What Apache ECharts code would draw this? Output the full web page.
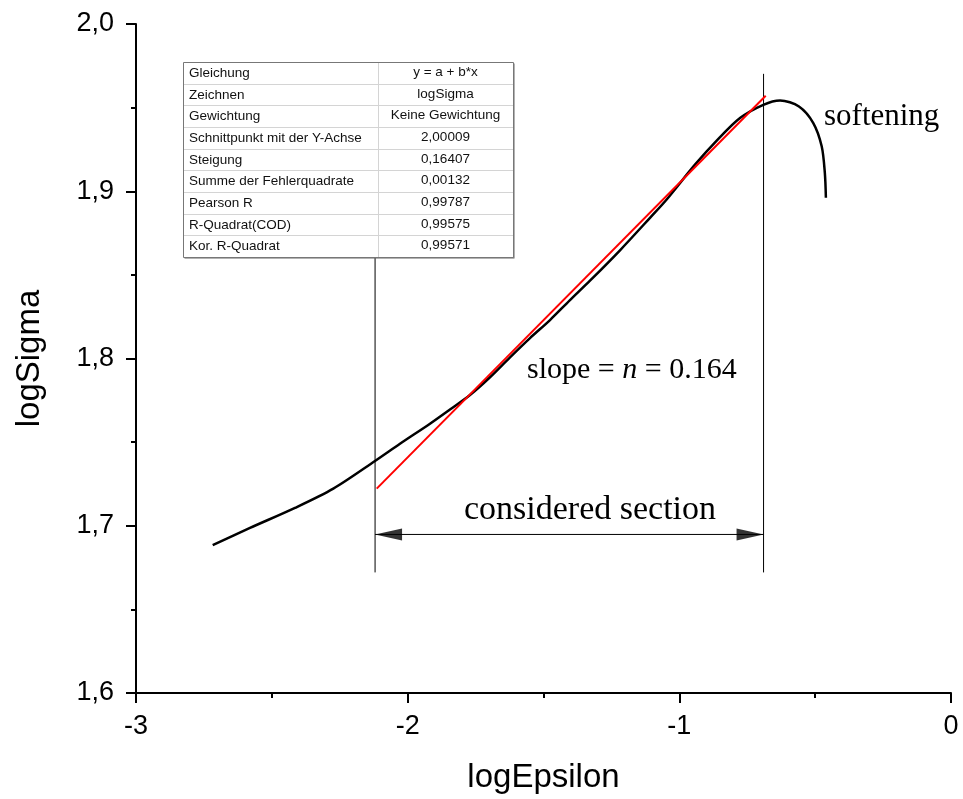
<!DOCTYPE html>
<html>
<head>
<meta charset="utf-8">
<script src="https://cdn.jsdelivr.net/npm/echarts@6/dist/echarts.min.js"></script>
<style>html,body{margin:0;padding:0;background:#fff;}#c{width:963px;height:799px;}</style>
</head>
<body>
<div id="c"></div>
<script>
// ---- data ----
const curveX = [-2.7177, -2.5804, -2.4147, -2.2737, -2.1203, -2.0283, -1.9178, -1.8442, -1.7706, -1.6970, -1.6233, -1.5497, -1.4761, -1.4025, -1.3289, -1.2184, -1.1080, -1.0466, -0.9424, -0.8624, -0.7767, -0.6909, -0.6293, -0.5596, -0.5069, -0.4760, -0.4644, -0.4605];
const curveY = [1.6884, 1.6987, 1.7107, 1.7222, 1.7387, 1.7490, 1.7610, 1.7695, 1.7782, 1.7888, 1.8007, 1.8122, 1.8230, 1.8349, 1.8465, 1.8647, 1.8841, 1.8951, 1.9159, 1.9303, 1.9438, 1.9517, 1.9543, 1.9507, 1.9408, 1.9269, 1.9110, 1.8961];
const fitX = [-2.114, -0.682];
const fitY = [1.7222, 1.9571];
const sectionX = [-2.120, -0.690];
const sectionLineY = [1.6721, 1.8605];
const rightLineY = [1.6721, 1.9702];
const arrowY = 1.6948;
const xTicks = [-3, -2, -1, 0];
const yTicks = [1.6, 1.7, 1.8, 1.9, 2.0];
const tableLabels = ['Gleichung', 'Zeichnen', 'Gewichtung', 'Schnittpunkt mit der Y-Achse', 'Steigung', 'Summe der Fehlerquadrate', 'Pearson R', 'R-Quadrat(COD)', 'Kor. R-Quadrat'];
const tableValues = ['y = a + b*x', 'logSigma', 'Keine Gewichtung', '2,00009', '0,16407', '0,00132', '0,99787', '0,99575', '0,99571'];

const SANS = '"Liberation Sans", Arial, sans-serif';
const SERIF = '"Liberation Serif", "Times New Roman", serif';

// table graphic
const tbl = {left: 183, top: 62, right: 513, bottom: 257, mid: 378};
const rowH = (tbl.bottom - tbl.top) / tableLabels.length;
const tableEls = [];
tableEls.push({type: 'rect', shape: {x: tbl.left + 1.5, y: tbl.top + 1.5, width: tbl.right - tbl.left, height: tbl.bottom - tbl.top}, style: {fill: '#666'}, z: 10});
tableEls.push({type: 'rect', shape: {x: tbl.left + 0.5, y: tbl.top + 0.5, width: tbl.right - tbl.left, height: tbl.bottom - tbl.top}, style: {fill: '#fff', stroke: '#777', lineWidth: 1}, z: 11});
for (let i = 1; i < tableLabels.length; i++) {
  const y = Math.round(tbl.top + rowH * i) + 0.5;
  tableEls.push({type: 'line', shape: {x1: tbl.left + 1, y1: y, x2: tbl.right, y2: y}, style: {stroke: '#d4d4d4', lineWidth: 1}, z: 12});
}
tableEls.push({type: 'line', shape: {x1: tbl.mid + 0.5, y1: tbl.top + 1, x2: tbl.mid + 0.5, y2: tbl.bottom}, style: {stroke: '#d4d4d4', lineWidth: 1}, z: 12});
tableLabels.forEach((t, i) => {
  const cy = tbl.top + rowH * (i + 0.5) + 0.5;
  tableEls.push({type: 'text', x: tbl.left + 6, y: cy, style: {text: t, font: '13.5px ' + SANS, fill: '#111', textVerticalAlign: 'middle', textAlign: 'left'}, z: 13});
  tableEls.push({type: 'text', x: (tbl.mid + tbl.right) / 2, y: cy - 1, style: {text: tableValues[i], font: '13.5px ' + SANS, fill: '#111', textVerticalAlign: 'middle', textAlign: 'center'}, z: 13});
});

const chart = echarts.init(document.getElementById('c'), null, {renderer: 'canvas'});
const fmt = v => Number(v).toFixed(1).replace('.', ',');
const option = {
  animation: false,
  backgroundColor: '#fff',
  grid: {left: 136, right: 12, top: 24, bottom: 103, containLabel: false},
  xAxis: {
    type: 'value', min: xTicks[0], max: xTicks[xTicks.length - 1], interval: 1,
    name: 'logEpsilon', nameLocation: 'middle', nameGap: 68,
    nameTextStyle: {fontFamily: SANS, fontSize: 33, color: '#000'},
    axisLine: {onZero: false, lineStyle: {color: '#000', width: 2}},
    axisTick: {inside: false, length: 10, lineStyle: {color: '#000', width: 2}},
    minorTick: {show: true, splitNumber: 2, length: 5, lineStyle: {color: '#000', width: 2}},
    axisLabel: {fontFamily: SANS, fontSize: 27, color: '#000', margin: 20, formatter: v => String(v)},
    splitLine: {show: false}
  },
  yAxis: {
    type: 'value', min: yTicks[0], max: yTicks[yTicks.length - 1], interval: 0.1,
    name: 'logSigma', nameLocation: 'middle', nameGap: 90,
    nameTextStyle: {fontFamily: SANS, fontSize: 33, color: '#000'},
    axisLine: {onZero: false, lineStyle: {color: '#000', width: 2}},
    axisTick: {inside: false, length: 10, lineStyle: {color: '#000', width: 2}},
    minorTick: {show: true, splitNumber: 2, length: 5, lineStyle: {color: '#000', width: 2}},
    axisLabel: {fontFamily: SANS, fontSize: 27, color: '#000', margin: 22, formatter: fmt},
    splitLine: {show: false}
  },
  series: [
    {type: 'line', data: [[sectionX[0], sectionLineY[0]], [sectionX[0], sectionLineY[1]]], symbol: 'none', lineStyle: {color: '#000', width: 1}, z: 2},
    {type: 'line', data: [[sectionX[1], rightLineY[0]], [sectionX[1], rightLineY[1]]], symbol: 'none', lineStyle: {color: '#000', width: 1}, z: 2},
    {type: 'line', data: [[sectionX[0], arrowY], [sectionX[1], arrowY]], symbol: 'none', lineStyle: {color: '#000', width: 1}, z: 2},
    {type: 'scatter', data: [[sectionX[0], arrowY]], symbol: 'triangle', symbolSize: [12, 27], symbolRotate: 90, symbolOffset: [13.5, 0], itemStyle: {color: '#000'}, z: 3},
    {type: 'scatter', data: [[sectionX[1], arrowY]], symbol: 'triangle', symbolSize: [12, 27], symbolRotate: -90, symbolOffset: [-13.5, 0], itemStyle: {color: '#000'}, z: 3},
    {type: 'line', data: curveX.map((x, i) => [x, curveY[i]]), symbol: 'none', smooth: 0.3, lineStyle: {color: '#000', width: 2.5}, z: 4},
    {type: 'line', data: fitX.map((x, i) => [x, fitY[i]]), symbol: 'none', lineStyle: {color: '#ff0000', width: 2}, z: 5}
  ],
  graphic: [
    ...tableEls,
    {type: 'text', x: 824, y: 117, style: {text: 'softening', font: '31px ' + SERIF, fill: '#000', textVerticalAlign: 'middle', textAlign: 'left'}, z: 20},
    {type: 'text', x: 590, y: 510, style: {text: 'considered section', font: '34px ' + SERIF, fill: '#000', textVerticalAlign: 'middle', textAlign: 'center'}, z: 20},
    {type: 'text', x: 527, y: 370, style: {
      text: '{a|slope = }{b|n}{a| = 0.164}',
      rich: {
        a: {fontFamily: SERIF, fontSize: 30, color: '#ff0000'},
        b: {fontFamily: SERIF, fontSize: 30, fontStyle: 'italic', color: '#ff0000'}
      },
      textVerticalAlign: 'middle', textAlign: 'left'}, z: 20}
  ]
};
chart.setOption(option);
</script>
</body>
</html>
